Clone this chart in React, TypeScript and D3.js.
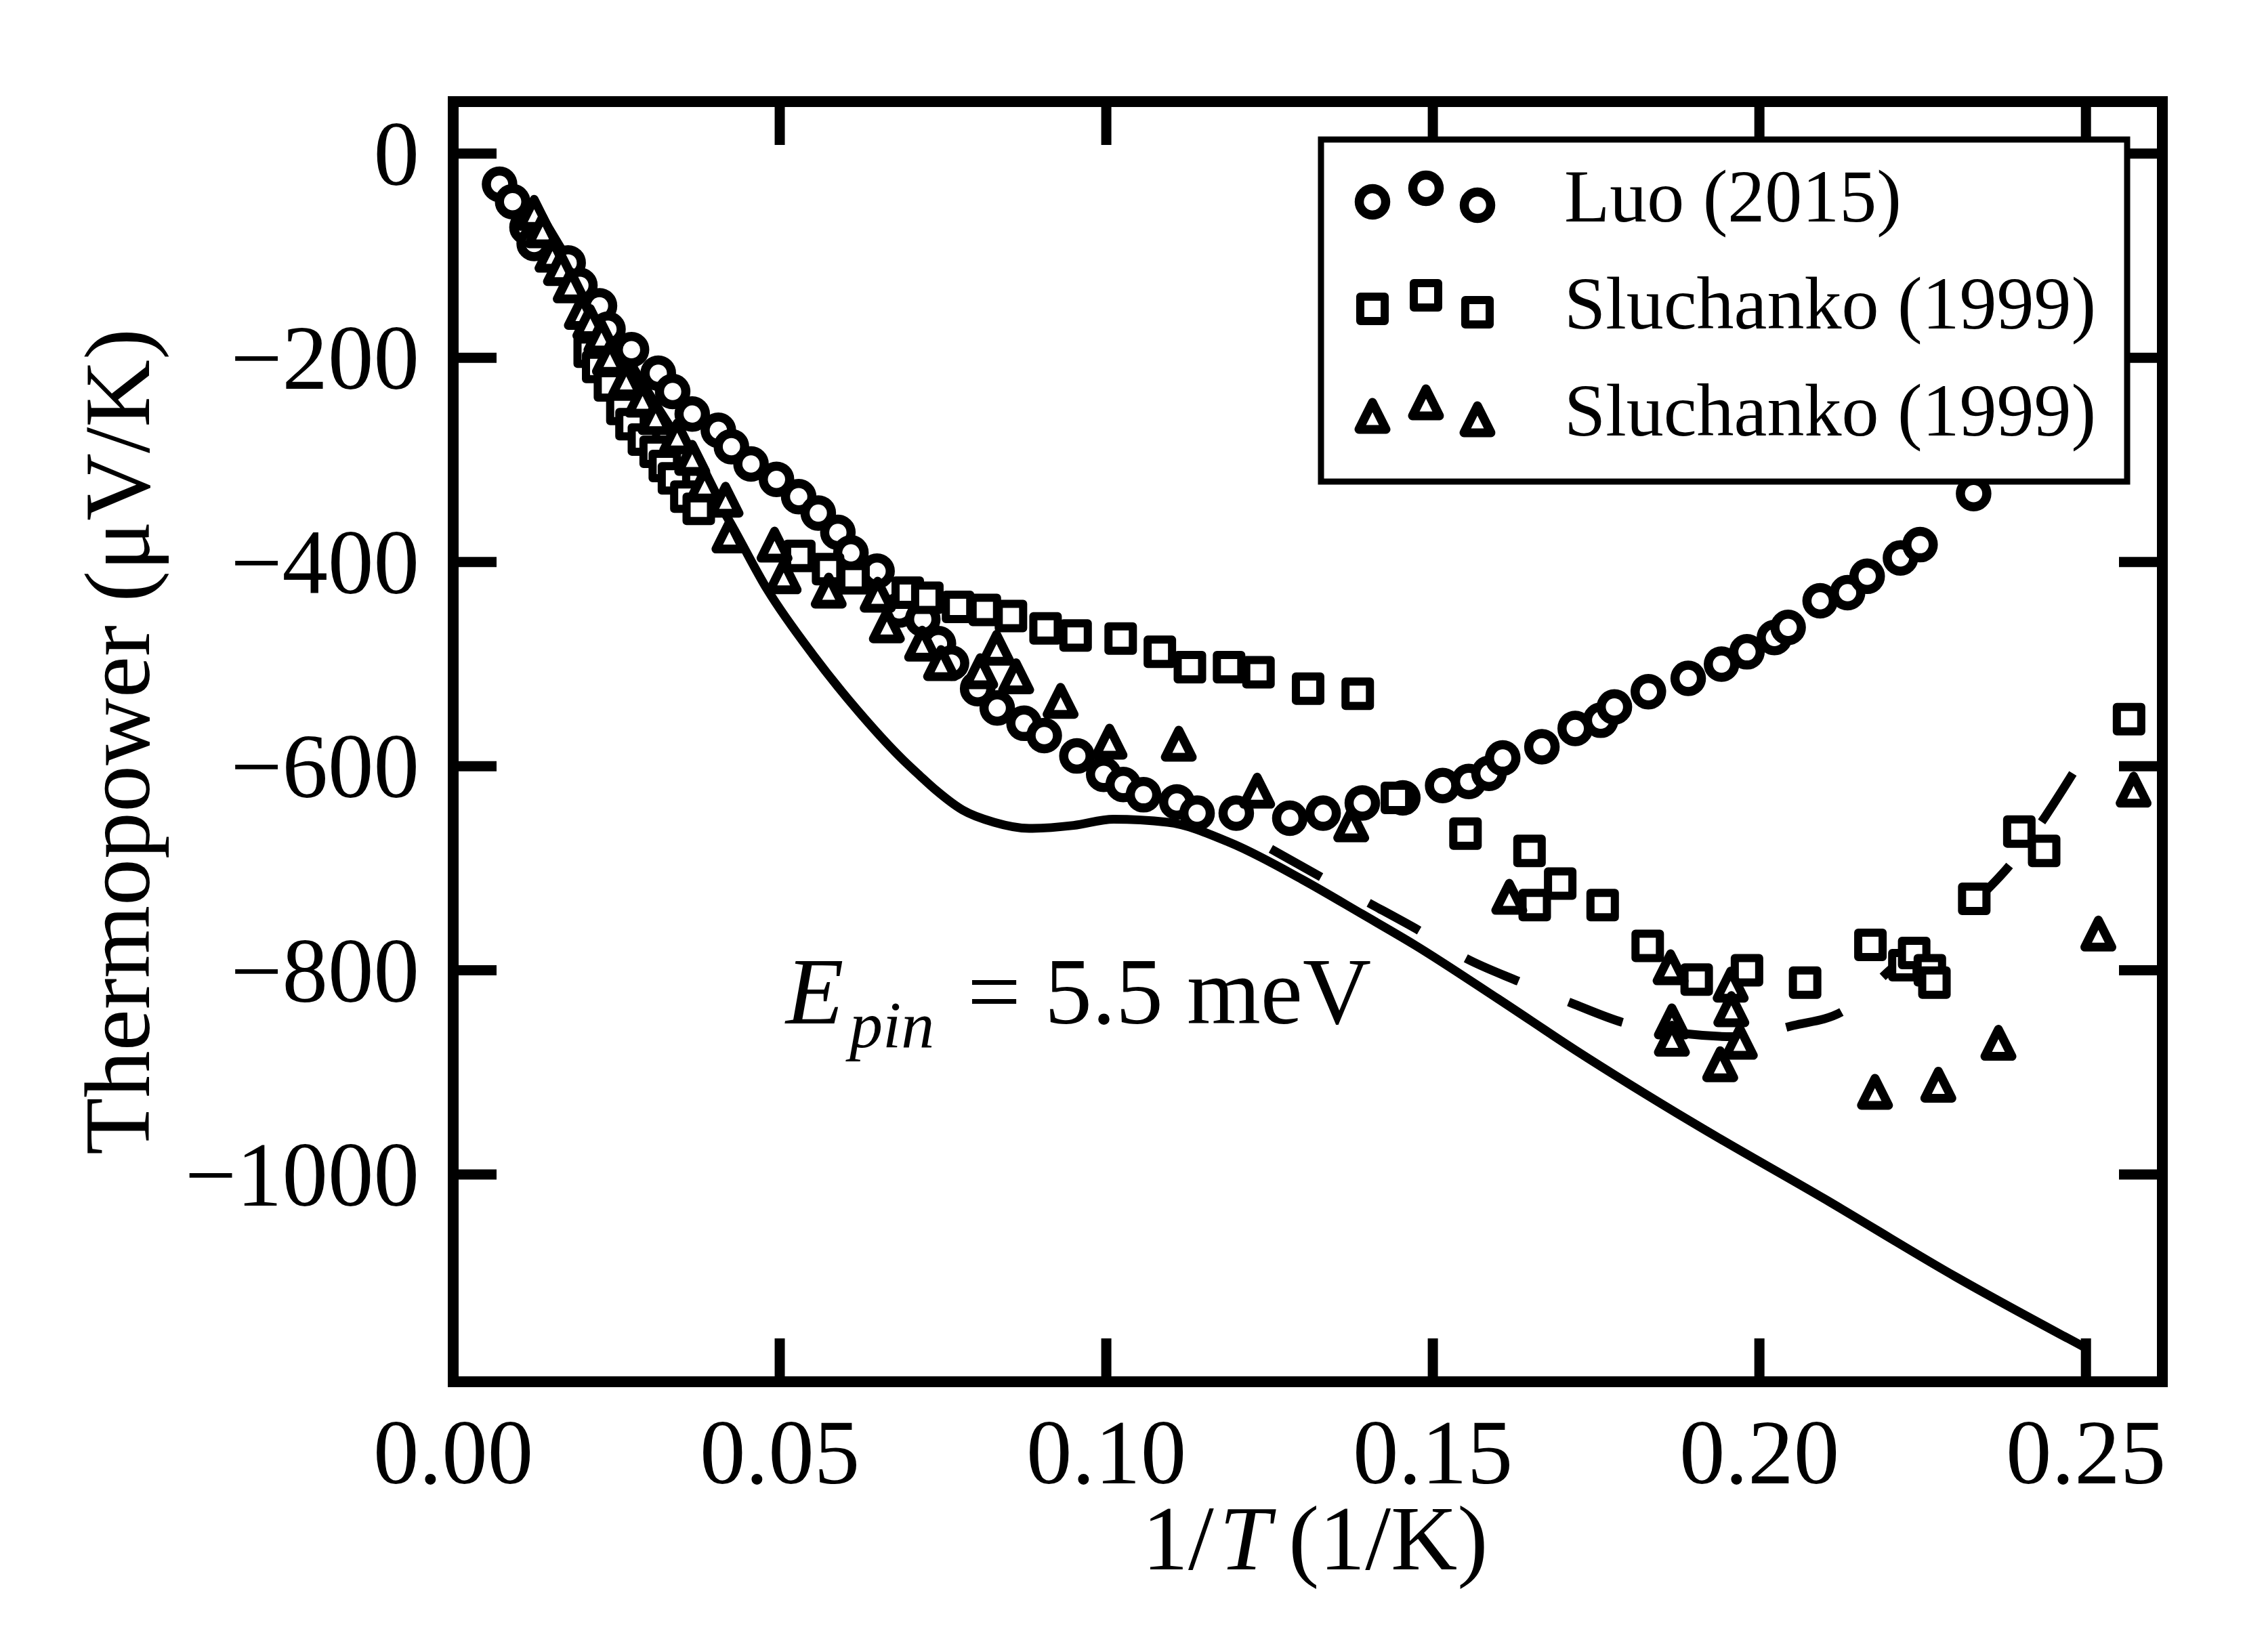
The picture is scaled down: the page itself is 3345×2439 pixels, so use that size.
import * as d3 from 'd3';

// 1/T (1/K), thermopower (uV/K)
const luo: [number, number][] = [
  [0.0071, -30], [0.0091, -47], [0.0113, -72], [0.0124, -88], [0.0176, -107], [0.0194, -129],
  [0.0224, -149], [0.0237, -172], [0.0273, -192], [0.0314, -215], [0.0336, -233], [0.0366, -255],
  [0.0406, -271], [0.0426, -287], [0.0456, -304], [0.0495, -319], [0.0529, -336], [0.0559, -352],
  [0.0589, -371], [0.0609, -391], [0.0649, -409], [0.0683, -447], [0.0719, -456], [0.0743, -480],
  [0.0763, -499], [0.0803, -524], [0.0833, -543], [0.0874, -558], [0.0905, -570], [0.0955, -590],
  [0.0996, -608], [0.1026, -618], [0.1057, -628], [0.1108, -635], [0.1139, -646], [0.1199, -646],
  [0.1281, -651], [0.1332, -646], [0.1392, -636], [0.1454, -631], [0.1515, -619], [0.1555, -615],
  [0.1586, -607], [0.1607, -592], [0.1667, -581], [0.1718, -563], [0.1757, -555], [0.1778, -542],
  [0.183, -527], [0.1891, -514], [0.1942, -500], [0.1981, -488], [0.2023, -474], [0.2044, -464],
  [0.2093, -438], [0.2135, -430], [0.2165, -414], [0.2216, -396], [0.2246, -383], [0.2328, -333],
];

const sluchankoSq: [number, number][] = [
  [0.0209, -194], [0.0222, -209], [0.024, -227], [0.0259, -250], [0.0273, -265], [0.0292, -280],
  [0.031, -292], [0.0324, -306], [0.0338, -318], [0.0357, -336], [0.0376, -348], [0.053, -394],
  [0.0574, -407], [0.0613, -416], [0.0696, -430], [0.0726, -435], [0.0773, -444], [0.0814, -447],
  [0.0854, -453], [0.0907, -465], [0.0953, -472], [0.1022, -475], [0.1082, -488], [0.1128, -503],
  [0.1188, -503], [0.1233, -508], [0.1309, -524], [0.1385, -529], [0.1445, -631], [0.155, -666],
  [0.1648, -683], [0.1656, -736], [0.1695, -715], [0.176, -736], [0.1829, -776], [0.1904, -809],
  [0.1981, -800], [0.207, -812], [0.217, -775], [0.2222, -795], [0.2237, -783], [0.2261, -800],
  [0.2268, -812], [0.2329, -730], [0.2398, -664], [0.2436, -683], [0.2566, -554],
];

const sluchankoTri: [number, number][] = [
  [0.0124, -58], [0.0137, -75], [0.0152, -99], [0.0165, -112], [0.018, -129], [0.0197, -155],
  [0.021, -165], [0.0227, -179], [0.024, -200], [0.0265, -222], [0.029, -241], [0.031, -258],
  [0.0343, -277], [0.0366, -298], [0.0385, -324], [0.0417, -339], [0.0423, -374], [0.0492, -383],
  [0.0506, -414], [0.0575, -428], [0.065, -432], [0.0664, -462], [0.0718, -480], [0.0747, -499],
  [0.0807, -507], [0.0832, -484], [0.0862, -512], [0.093, -536], [0.1005, -576], [0.1111, -578],
  [0.1231, -624], [0.1375, -657], [0.1617, -728], [0.1864, -797], [0.1866, -850], [0.1866, -867],
  [0.1956, -814], [0.1957, -838], [0.197, -870], [0.194, -892], [0.2177, -919], [0.2274, -912],
  [0.2366, -871], [0.2519, -764], [0.2573, -623],
];

// model curves
const modelSolid: [number, number][] = [
  [0.0125, -50], [0.02, -130], [0.03, -235], [0.0423, -360], [0.0481, -427], [0.0551, -491],
  [0.062, -546], [0.0689, -594], [0.0714, -609], [0.074, -624], [0.078, -643], [0.0828, -655],
  [0.0882, -661], [0.095, -658], [0.1011, -652], [0.1094, -655], [0.119, -675], [0.13, -711],
  [0.1392, -745], [0.1472, -775], [0.16, -828], [0.1718, -878], [0.19, -950], [0.21, -1024],
  [0.23, -1100], [0.2503, -1171],
];

const modelDashed: [number, number][] = [
  [0.1252, -681], [0.1327, -708], [0.1402, -734], [0.1479, -761], [0.1553, -789], [0.1632, -811],
  [0.1712, -832], [0.1796, -852], [0.1885, -862], [0.1965, -865], [0.2052, -854], [0.2128, -840],
  [0.2205, -797], [0.2328, -734], [0.2386, -695], [0.2438, -649], [0.2483, -604],
];

const xTicks = [0, 0.05, 0.1, 0.15, 0.2, 0.25];
const xTickLabels = ['0.00', '0.05', '0.10', '0.15', '0.20', '0.25'];
const yTicks = [0, -200, -400, -600, -800, -1000];
const yTickLabels = ['0', '\u2212200', '\u2212400', '\u2212600', '\u2212800', '\u22121000'];
const legendLabels = ['Luo (2015)', 'Sluchanko (1999)', 'Sluchanko (1999)'];

const W = 3345;
const H = 2439;
const left = 669;
const right = 3192;
const top = 150;
const bottom = 2040;
const font = '"Liberation Serif", "Times New Roman", serif';

const x = d3.scaleLinear().domain([0, 0.2617]).range([left, right]);
const y = d3.scaleLinear().domain([-1203, 51]).range([bottom, top]);

const line = d3
  .line<[number, number]>()
  .x((d) => x(d[0]))
  .y((d) => y(d[1]))
  .curve(d3.curveMonotoneX);

function Marker({ kind, cx, cy }: { kind: number; cx: number; cy: number }) {
  if (kind === 0) {
    return <circle cx={cx} cy={cy} r={19.5} fill="#fff" stroke="#000" strokeWidth={13.5} />;
  }
  if (kind === 1) {
    return (
      <rect x={cx - 18} y={cy - 18} width={36} height={36} fill="#fff" stroke="#000"
        strokeWidth={12} strokeLinejoin="round" />
    );
  }
  const h = 20;
  return (
    <path d={`M${cx},${cy - h}L${cx + h},${cy + h}L${cx - h},${cy + h}Z`} fill="#fff"
      stroke="#000" strokeWidth={13} strokeLinejoin="round" />
  );
}

export default function App() {
  const series = [luo, sluchankoSq, sluchankoTri];
  const legendBase = [327, 485, 643];
  const legendMx = [2026, 2105, 2181];
  const legendDy = [8, -12, 13];

  return (
    <svg width={W} height={H} viewBox={`0 0 ${W} ${H}`}
      style={{ position: 'absolute', left: 0, top: 0, background: '#fff' }}>
      <rect x={0} y={0} width={W} height={H} fill="#fff" />

      {/* model curves */}
      <path d={line(modelSolid) ?? ''} fill="none" stroke="#000" strokeWidth={13} strokeLinejoin="round" />
      <path d={line(modelDashed) ?? ''} fill="none" stroke="#000" strokeWidth={13}
        strokeDasharray="85 80" />

      {/* data */}
      {series.map((s, k) => (
        <g key={k}>
          {s.map((d, i) => (
            <Marker key={i} kind={k} cx={x(d[0])} cy={y(d[1])} />
          ))}
        </g>
      ))}

      {/* ticks */}
      {xTicks.map((t) => (
        <g key={t} stroke="#000" strokeWidth={15}>
          <line x1={x(t)} x2={x(t)} y1={bottom} y2={bottom - 64} />
          <line x1={x(t)} x2={x(t)} y1={top} y2={top + 64} />
        </g>
      ))}
      {yTicks.map((t) => (
        <g key={t} stroke="#000" strokeWidth={15}>
          <line x1={left} x2={left + 64} y1={y(t)} y2={y(t)} />
          <line x1={right} x2={right - 64} y1={y(t)} y2={y(t)} />
        </g>
      ))}
      <rect x={left} y={top} width={right - left} height={bottom - top} fill="none"
        stroke="#000" strokeWidth={16} />

      {/* tick labels */}
      {xTicks.map((t, i) => (
        <text key={t} x={x(t)} y={2190} textAnchor="middle" fontFamily={font} fontSize={135}>
          {xTickLabels[i]}
        </text>
      ))}
      {yTicks.map((t, i) => (
        <text key={t} x={619} y={y(t) + 46} textAnchor="end" fontFamily={font} fontSize={135}>
          {yTickLabels[i]}
        </text>
      ))}

      {/* axis titles */}
      <text x={1686} y={2317} fontFamily={font} fontSize={136}>1/</text>
      <text x={1800} y={2317} fontFamily={font} fontSize={136} fontStyle="italic">T</text>
      <text x={1902} y={2317} fontFamily={font} fontSize={136}>(1/K)</text>
      <text transform={`translate(220,${(top + bottom) / 2}) rotate(-90)`} textAnchor="middle"
        fontFamily={font} fontSize={138}>
        Thermopower (μV/K)
      </text>

      {/* annotation */}
      <text x={1160} y={1511} fontFamily={font} fontSize={140} fontStyle="italic">E</text>
      <text x={1254} y={1546} fontFamily={font} fontSize={98} fontStyle="italic">pin</text>
      <text x={1428} y={1511} fontFamily={font} fontSize={140}>= 5.5 meV</text>

      {/* legend */}
      <rect x={1950} y={206} width={1190} height={505} fill="#fff" stroke="#000" strokeWidth={9} />
      {legendLabels.map((lab, k) => (
        <g key={k}>
          {legendMx.map((mx, j) => (
            <Marker key={j} kind={k} cx={mx} cy={legendBase[k] - 37 + legendDy[j]} />
          ))}
          <text x={2309} y={legendBase[k]} fontFamily={font} fontSize={110}>
            {lab}
          </text>
        </g>
      ))}
    </svg>
  );
}
